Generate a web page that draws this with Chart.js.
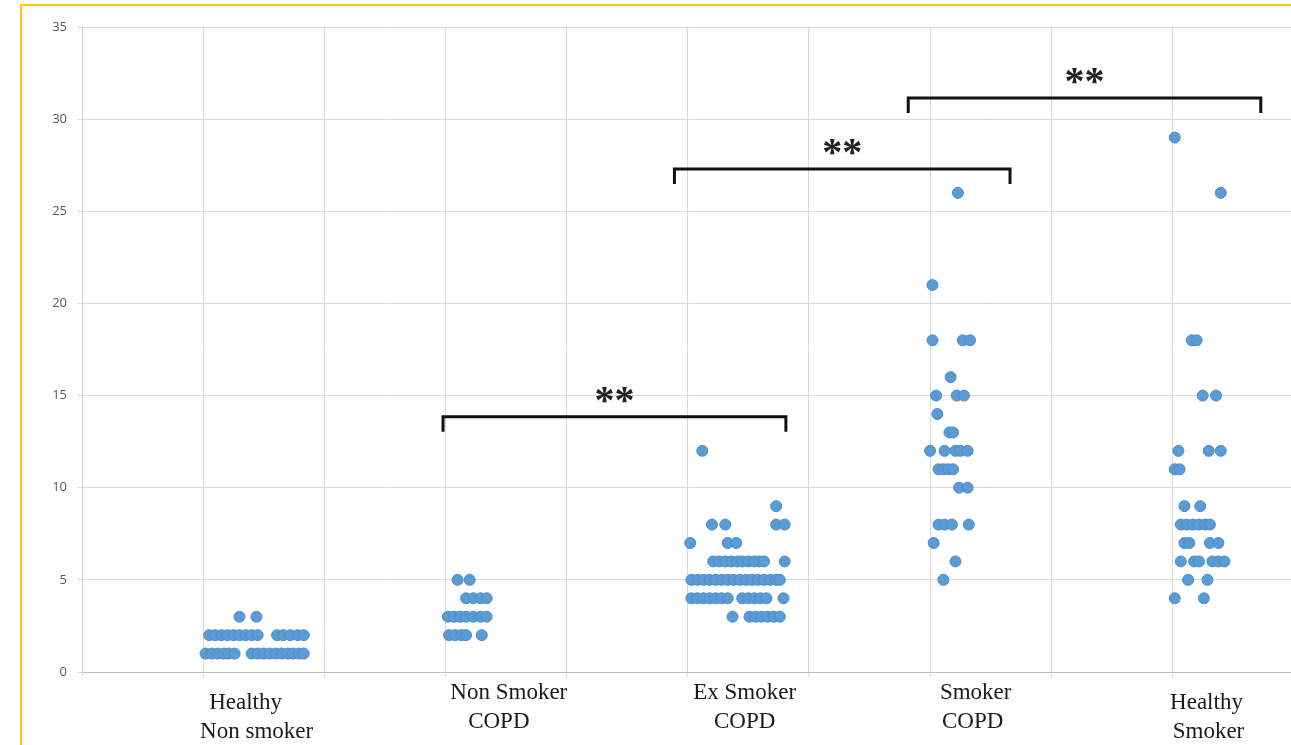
<!DOCTYPE html>
<html>
<head>
<meta charset="utf-8">
<script src="https://cdn.jsdelivr.net/npm/chart.js@4"></script>
<style>
  html, body { margin: 0; padding: 0; background: #fff; overflow: hidden; }
  #frame { position: absolute; left: 20px; top: 4px; width: 1300px; height: 760px;
           border-left: 2px solid #ffc90e; border-top: 2px solid #ffc90e; }
  #dots { position: absolute; left: 0; top: 0; }
</style>
</head>
<body>
<div id="frame"></div>
<canvas id="dots" width="1300" height="745"></canvas>
<script>
// group labels and where each group's dots start on the 0..10 x axis
const categories = [['Healthy', 'Non smoker'], ['Non Smoker', 'COPD'], ['Ex Smoker', 'COPD'], ['Smoker', 'COPD'], ['Healthy', 'Smoker']]
const groupStart = [1, 3, 5, 7, 9]
const labelCenter = [1.40, 3.49, 5.47, 7.36, 9.29]
const yTicks = [0, 5, 10, 15, 20, 25, 30, 35]

// values + horizontal jitter, one row per value
const healthyNonSmokerValues = [
  1, 1, 1, 1, 1, 1, 1, 1, 1, 1, 1, 1, 1, 1, 1, 1,
  2, 2, 2, 2, 2, 2, 2, 2, 2, 2, 2, 2, 2, 2,
  3, 3]
const healthyNonSmokerJitter = [
  0.02, 0.07, 0.12, 0.17, 0.21, 0.26, 0.40, 0.45, 0.50, 0.55, 0.60, 0.65, 0.70, 0.74, 0.79, 0.83,
  0.05, 0.10, 0.15, 0.20, 0.25, 0.30, 0.35, 0.40, 0.45, 0.61, 0.66, 0.72, 0.78, 0.83,
  0.30, 0.44]

const nonSmokerCopdValues = [
  5, 5,
  4, 4, 4, 4,
  3, 3, 3, 3, 3, 3, 3,
  2, 2, 2, 2, 2]
const nonSmokerCopdJitter = [
  0.10, 0.20,
  0.17, 0.23, 0.29, 0.34,
  0.02, 0.07, 0.12, 0.17, 0.23, 0.29, 0.34,
  0.03, 0.08, 0.13, 0.17, 0.30]

const exSmokerCopdValues = [
  12,
  9,
  8, 8, 8, 8,
  7, 7, 7,
  6, 6, 6, 6, 6, 6, 6, 6, 6, 6, 6,
  5, 5, 5, 5, 5, 5, 5, 5, 5, 5, 5, 5, 5, 5, 5, 5,
  4, 4, 4, 4, 4, 4, 4, 4, 4, 4, 4, 4, 4,
  3, 3, 3, 3, 3, 3, 3]
const exSmokerCopdJitter = [
  0.12,
  0.73,
  0.20, 0.31, 0.73, 0.80,
  0.02, 0.33, 0.40,
  0.21, 0.26, 0.31, 0.36, 0.41, 0.45, 0.50, 0.55, 0.59, 0.63, 0.80,
  0.03, 0.08, 0.13, 0.18, 0.23, 0.28, 0.33, 0.38, 0.43, 0.48, 0.53, 0.58, 0.63, 0.68, 0.73, 0.76,
  0.03, 0.08, 0.13, 0.18, 0.23, 0.28, 0.33, 0.45, 0.50, 0.55, 0.60, 0.65, 0.79,
  0.37, 0.51, 0.56, 0.61, 0.66, 0.71, 0.76]

const smokerCopdValues = [
  26, 21, 18, 18, 18, 16, 15, 15, 15, 14, 13, 13,
  12, 12, 12, 12, 12, 11, 11, 11, 11, 10, 10,
  8, 8, 8, 8, 7, 6, 5]
const smokerCopdJitter = [
  0.23, 0.02, 0.02, 0.27, 0.33, 0.17, 0.05, 0.22, 0.28, 0.06, 0.16, 0.19,
  0.00, 0.12, 0.21, 0.25, 0.31, 0.07, 0.11, 0.15, 0.19, 0.24, 0.31,
  0.07, 0.12, 0.18, 0.32, 0.03, 0.21, 0.11]

const healthySmokerValues = [
  29, 26, 18, 18, 15, 15, 12, 12, 12, 11, 11, 9, 9,
  8, 8, 8, 8, 8, 8, 7, 7, 7, 7,
  6, 6, 6, 6, 6, 6, 5, 5, 4, 4]
const healthySmokerJitter = [
  0.02, 0.40, 0.16, 0.20, 0.25, 0.36, 0.05, 0.30, 0.40, 0.02, 0.06, 0.10, 0.23,
  0.07, 0.12, 0.17, 0.22, 0.27, 0.31, 0.10, 0.14, 0.31, 0.38,
  0.07, 0.18, 0.22, 0.33, 0.38, 0.43, 0.13, 0.29, 0.02, 0.26]

// significance brackets
const bracketFrom = [2.98, 4.89, 6.82]
const bracketTo = [5.81, 7.66, 9.73]
const bracketLevel = [13.85, 27.3, 31.15]
const bracketText = ['**', '**', '**']

const groups = [
  [healthyNonSmokerValues, healthyNonSmokerJitter],
  [nonSmokerCopdValues, nonSmokerCopdJitter],
  [exSmokerCopdValues, exSmokerCopdJitter],
  [smokerCopdValues, smokerCopdJitter],
  [healthySmokerValues, healthySmokerJitter],
]

const points = []
groups.forEach(([vals, jit], i) => {
  vals.forEach((v, k) => points.push({ x: groupStart[i] + jit[k], y: v }))
})

// label line offsets below the axis (px)
const labelRows = [[31, 60], [21, 50], [21, 50], [21, 50], [31, 60]]
const lineShift = [[-6, 5], [4, -6], [0, 0], [2, -1], [-1, 1]]

const extras = {
  id: 'extras',
  afterDraw(chart) {
    const { ctx, scales: { x, y }, chartArea } = chart
    ctx.save()
    // brackets
    ctx.strokeStyle = '#111'
    ctx.lineWidth = 3
    ctx.fillStyle = '#222'
    ctx.font = 'bold 40px "Liberation Serif"'
    ctx.textAlign = 'center'
    ctx.textBaseline = 'alphabetic'
    bracketFrom.forEach((f, i) => {
      const x1 = x.getPixelForValue(f)
      const x2 = x.getPixelForValue(bracketTo[i])
      const yy = y.getPixelForValue(bracketLevel[i])
      ctx.beginPath()
      ctx.moveTo(x1, yy + 15)
      ctx.lineTo(x1, yy)
      ctx.lineTo(x2, yy)
      ctx.lineTo(x2, yy + 15)
      ctx.stroke()
      ctx.fillText(bracketText[i], (x1 + x2) / 2, yy - 4)
    })
    // category labels
    ctx.font = '23px "Liberation Serif"'
    ctx.fillStyle = '#1a1a1a'
    ctx.textBaseline = 'middle'
    categories.forEach((lines, i) => {
      const cx = x.getPixelForValue(labelCenter[i])
      lines.forEach((t, j) => ctx.fillText(t, cx + lineShift[i][j], chartArea.bottom + labelRows[i][j]))
    })
    ctx.restore()
  }
}

new Chart(document.getElementById('dots'), {
  type: 'scatter',
  data: {
    datasets: [{
      data: points,
      backgroundColor: '#5b9bd5',
      borderColor: '#4d8cc9',
      borderWidth: 1,
      pointRadius: 5.5,
      pointHoverRadius: 5.5,
    }]
  },
  options: {
    responsive: false,
    animation: false,
    devicePixelRatio: 1,
    layout: { padding: { top: 27, right: 6, bottom: 0, left: 0 } },
    plugins: { legend: { display: false }, tooltip: { enabled: false } },
    scales: {
      x: {
        type: 'linear', min: 0, max: 10,
        afterFit: (s) => { s.height = 73 },
        ticks: { stepSize: 1, callback: () => '' },
        grid: { color: '#d9d9d9', tickLength: 5 },
        border: { color: '#bfbfbf' },
      },
      y: {
        min: 0, max: 35,
        afterFit: (s) => { s.width = 82 },
        afterBuildTicks: (s) => { s.ticks = yTicks.map(v => ({ value: v })) },
        ticks: { color: '#595959', padding: 10, font: { family: 'Open Sans', size: 13 } },
        grid: { color: '#d9d9d9', tickLength: 5 },
        border: { color: '#d0d0d0' },
      }
    }
  },
  plugins: [extras]
})
</script>
</body>
</html>
